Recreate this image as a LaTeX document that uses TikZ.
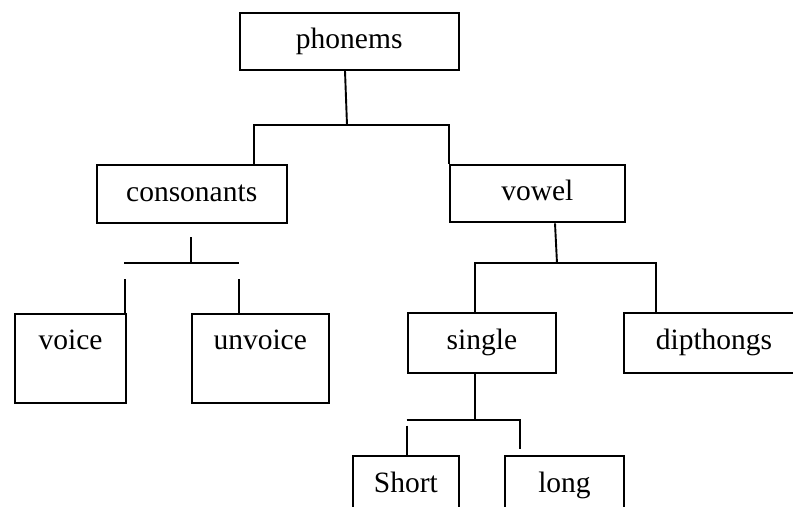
\documentclass[tikz,border=0pt]{standalone}
\usepackage{fontspec}
\setmainfont{Liberation Serif}
\usetikzlibrary{calc}
\begin{document}
\begin{tikzpicture}[x=1bp,y=-1bp,line width=2bp,
  box/.style={draw,anchor=north west,inner xsep=0pt,inner ysep=0pt,
    text height=36bp,font=\fontsize{29.5bp}{34bp}\selectfont},
  conn/.style={line width=1.9bp}]
\useasboundingbox (0,0) rectangle (793,507);
\clip (0,0) rectangle (793,507);
% boxes
\node[box,minimum width=219.5bp,text depth=21bp] (phon) at (238.5,12) {phonems};
\node[box,minimum width=190bp,text depth=21.4bp] (cons) at (95.7,164.3) {consonants};
\node[box,minimum width=174.7bp,text depth=21.3bp] (vowel) at (449,164) {vowel};
\node[box,minimum width=111bp,text depth=53.6bp] (voice) at (14,312.7) {voice};
\node[box,minimum width=137bp,text depth=53.6bp] (unvoice) at (190.7,312.7) {unvoice};
\node[box,minimum width=148.3bp,text depth=23.7bp] (single) at (406.7,312) {single};
\node[box,minimum width=180bp,text depth=23.7bp] (dip) at (623,312) {dipthongs};
\node[box,minimum width=105.7bp,text depth=60bp] (short) at (352,455) {Short};
\node[box,minimum width=119bp,text depth=60bp] (long) at (504,455) {long};
% joints
\coordinate (pj) at (347,125);
\coordinate (hL) at (254,125);
\coordinate (c1) at (190.7,237.3);
\coordinate (c2) at (190.7,263.3);
\coordinate (cl) at (124,263.3);
\coordinate (cr) at (239.3,263.3);
\coordinate (vt) at (124.7,279.3);
\coordinate (ut) at (239,279.3);
\coordinate (vj) at (557,263.3);
\coordinate (sL) at (475.3,263.3);
\coordinate (sR) at (656.3,263.3);
\coordinate (sj) at (475.3,420.3);
\coordinate (tl) at (406.7,420.3);
\coordinate (tr) at (520,420.3);
\coordinate (tre) at (520,449.3);
\coordinate (sst) at (407,425.7);
% connectors
\draw[conn] ($(phon.south west)+(106.5,0)$) -- (pj);
\draw[conn] (cons.north -| hL) -- (hL) -- (vowel.north west |- hL) -- (vowel.north west);
\draw[conn] (c1) -- (c2);
\draw[conn] (cl) -- (cr);
\draw[conn] (vt) -- (vt |- voice.north);
\draw[conn] (ut) -- (ut |- unvoice.north);
\draw[conn] ($(vowel.south west)+(106,0)$) -- (vj);
\draw[conn] (single.north -| sL) -- (sL) -- (sR) -- (sR |- dip.north);
\draw[conn] (single.south -| sj) -- (sj);
\draw[conn] (tl) -- (tr) -- (tre);
\draw[conn] (sst) -- (sst |- short.north);
\end{tikzpicture}
\end{document}
